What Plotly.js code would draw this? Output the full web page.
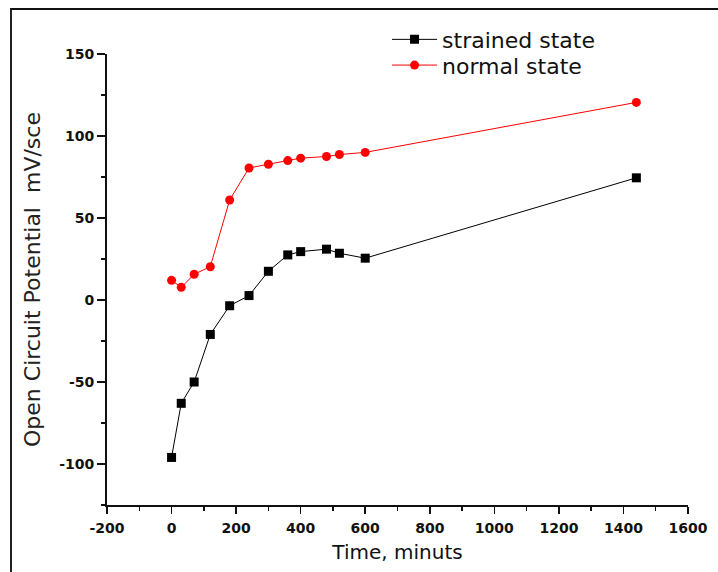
<!DOCTYPE html>
<html>
<head>
<meta charset="utf-8">
<script src="https://cdn.plot.ly/plotly-3.0.1.min.js"></script>
<style>
  html, body { margin: 0; padding: 0; background: #fff; }
  #wrap { position: relative; width: 718px; height: 572px; overflow: hidden; }
  #frame { position: absolute; left: 10px; top: 8px; width: 720px; height: 600px;
           border-top: 2px solid #111; border-left: 2px solid #222; pointer-events: none; z-index: 5; }
  #chart { position: absolute; left: 0; top: 0; width: 718px; height: 572px; }
</style>
</head>
<body>
<div id="wrap">
  <div id="chart"></div>
  <div id="frame"></div>
</div>
<script>
// Data
const timeMinutes = [0, 30, 70, 120, 180, 240, 300, 360, 400, 480, 520, 600, 1440];
const strainedState = [-96, -63, -50, -21, -3.5, 2.7, 17.5, 27.5, 29.5, 31, 28.5, 25.5, 74.5];
const normalState = [12, 7.7, 15.7, 20.3, 61, 80.5, 82.8, 85, 86.5, 87.5, 88.7, 90, 120.5];
const seriesNames = ["strained state", "normal state"];
const xTickVals = [-200, 0, 200, 400, 600, 800, 1000, 1200, 1400, 1600];
const yTickVals = [-100, -50, 0, 50, 100, 150];

const tickFont = { family: "DejaVu Sans", size: 14, color: "#111", weight: "bold" };
const legendFont = { family: "DejaVu Sans", size: 22, color: "#111" };

const traces = [
  {
    x: timeMinutes, y: strainedState, name: seriesNames[0],
    type: "scatter", mode: "lines+markers", legend: "legend",
    line: { color: "#000", width: 1 },
    marker: { symbol: "square", size: 9, color: "#000" }
  },
  {
    x: timeMinutes, y: normalState, name: seriesNames[1],
    type: "scatter", mode: "lines+markers", legend: "legend2",
    line: { color: "#ff0000", width: 1 },
    marker: { symbol: "circle", size: 9, color: "#ff0000" }
  }
];

const layout = {
  width: 718, height: 572,
  margin: { l: 107, r: 30, t: 54, b: 67, autoexpand: false },
  paper_bgcolor: "#fff", plot_bgcolor: "#fff",
  showlegend: true,
  legend: {
    x: 0.482, y: 1.032, xanchor: "left", yanchor: "middle",
    bgcolor: "rgba(0,0,0,0)", font: legendFont, itemwidth: 45
  },
  legend2: {
    x: 0.482, y: 0.975, xanchor: "left", yanchor: "middle",
    bgcolor: "rgba(0,0,0,0)", font: legendFont, itemwidth: 45
  },
  xaxis: {
    range: [-200, 1600], tickvals: xTickVals, ticktext: xTickVals.map(String),
    showgrid: false, zeroline: false, showline: true, linecolor: "#111", linewidth: 2,
    ticks: "outside", ticklen: 7, tickwidth: 1.5, tickcolor: "#111", ticklabelstandoff: 2,
    minor: { dtick: 100, tick0: 0, ticks: "outside", ticklen: 4, tickwidth: 1.5, tickcolor: "#111", showgrid: false },
    tickfont: tickFont,
    title: { text: "Time, minuts", font: { family: "DejaVu Sans", size: 20, color: "#111" }, standoff: 10 }
  },
  yaxis: {
    range: [-125, 150], tickvals: yTickVals, ticktext: yTickVals.map(String),
    showgrid: false, zeroline: false, showline: true, linecolor: "#111", linewidth: 2,
    ticks: "outside", ticklen: 8, tickwidth: 1.5, tickcolor: "#111",
    minor: { dtick: 25, tick0: 0, ticks: "outside", ticklen: 4, tickwidth: 1.5, tickcolor: "#111", showgrid: false },
    tickfont: tickFont,
    title: { text: "Open Circuit Potential  mV/sce", font: { family: "DejaVu Sans", size: 22, color: "#222" }, standoff: 12 }
  }
};

Plotly.newPlot("chart", traces, layout, { displayModeBar: false, staticPlot: true });
</script>
</body>
</html>
